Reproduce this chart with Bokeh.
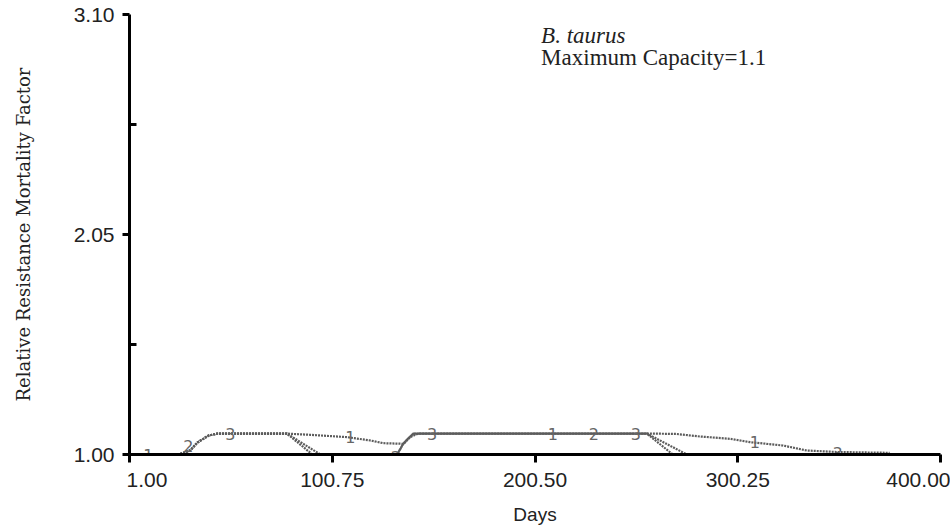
from bokeh.plotting import figure
from bokeh.models import Range1d, FixedTicker, NumeralTickFormatter, Label
from bokeh.embed import file_html
from bokeh.resources import INLINE
from bokeh.core.properties import value

# ---- data ----
days_1 = [1, 25.1, 31.0, 34.4, 39.8, 44.2, 50.6, 78.4, 81.7, 89.9, 107.9, 119.4, 125.9,
          135.8, 139.1, 143.0, 255.5, 257.0, 270.1, 281.6, 296.3, 306.2, 322.4, 334.2,
          348.9, 375.0]
res_1 = [1.0, 1.0, 1.02, 1.057, 1.09, 1.1, 1.1, 1.1, 1.098, 1.094, 1.083, 1.067, 1.054,
         1.051, 1.083, 1.1, 1.1, 1.1, 1.098, 1.086, 1.075, 1.059, 1.043, 1.019, 1.012, 1.008]

days_2 = [1, 25.1, 31.0, 34.4, 39.8, 44.2, 50.6, 78.4, 91.0, 132.7, 135.6, 138.1, 140.6,
          255.5, 268.3, 375.0]
res_2 = [1.0, 1.0, 1.02, 1.057, 1.09, 1.1, 1.1, 1.1, 1.0, 1.0, 1.05, 1.076, 1.1,
         1.1, 1.0, 1.0]

days_3 = [1, 25.1, 31.0, 34.4, 39.8, 44.2, 50.6, 78.4, 94.9, 132.7, 135.6, 138.1, 140.6,
          255.5, 275.2, 375.0]
res_3 = [1.0, 1.0, 1.02, 1.057, 1.09, 1.1, 1.1, 1.1, 1.0, 1.0, 1.05, 1.076, 1.1,
         1.1, 1.0, 1.0]

# curve identification labels (pen numbers)
pen_text = ["1", "2", "3", "1", "2", "3", "1", "2", "3", "1", "3"]
pen_day = [10.3, 30.0, 50.6, 109.6, 132.0, 149.9, 209.3, 229.5, 250.1, 308.6, 349.4]
pen_val = [1.0, 1.04, 1.1, 1.083, 0.99, 1.1, 1.1, 1.1, 1.1, 1.06, 1.005]

x_ticks = [1.0, 100.75, 200.5, 300.25, 400.0]
x_tick_labels = ["\u00a0" * 6 + "1.00", "100.75", "200.50", "300.25", "400.00"]
y_ticks = [1.0, 2.05, 3.10]
y_minor = [1.525, 2.575]

p = figure(width=950, height=529, output_backend="svg", toolbar_location=None,
           x_range=Range1d(1, 400), y_range=Range1d(1.0, 3.10),
           min_border_left=129, min_border_right=10, min_border_top=14, min_border_bottom=75)
p.outline_line_color = None
p.grid.visible = False
p.background_fill_color = "white"
p.border_fill_color = "white"

line_col = "#5c5c5c"
for d, r in [(days_1, res_1), (days_2, res_2), (days_3, res_3)]:
    p.line(d, r, line_color=line_col, line_width=2.2, line_dash="2 1")

p.text(x=pen_day, y=pen_val, text=pen_text, text_color="#666666",
       text_font=value("DejaVu Sans"), text_font_size="16px",
       text_align="center", text_baseline="middle")

# x axis
xa = p.xaxis[0]
xa.ticker = FixedTicker(ticks=x_ticks, minor_ticks=[])
xa.major_label_overrides = {t: s for t, s in zip(x_ticks, x_tick_labels)}
xa.axis_line_width = 3
xa.axis_line_color = "black"
xa.major_tick_line_width = 3
xa.major_tick_out = 8
xa.major_tick_in = 0
xa.minor_tick_line_color = None
xa.major_label_text_font = "Liberation Sans"
xa.major_label_text_font_size = "21px"
xa.major_label_text_color = "#222222"
xa.major_label_standoff = 5
xa.axis_label = "Days"
xa.axis_label_text_font = "Liberation Sans"
xa.axis_label_text_font_style = "normal"
xa.axis_label_text_font_size = "19px"
xa.axis_label_text_color = "#222222"
xa.axis_label_standoff = 10

# y axis
ya = p.yaxis[0]
ya.ticker = FixedTicker(ticks=y_ticks, minor_ticks=y_minor)
ya.formatter = NumeralTickFormatter(format="0.00")
ya.axis_line_width = 3
ya.axis_line_color = "black"
ya.major_tick_line_width = 3
ya.major_tick_out = 7
ya.major_tick_in = 0
ya.minor_tick_line_width = 3
ya.minor_tick_line_color = "black"
ya.minor_tick_in = 7
ya.minor_tick_out = 0
ya.major_label_text_font = "Liberation Sans"
ya.major_label_text_font_size = "21px"
ya.major_label_text_color = "#222222"
ya.major_label_standoff = 8
ya.axis_label = "Relative Resistance Mortality Factor"
ya.axis_label_text_font = "DejaVu Serif"
ya.axis_label_text_font_style = "normal"
ya.axis_label_text_font_size = "18px"
ya.axis_label_text_color = "#222222"
ya.axis_label_standoff = 37

# annotation text
p.add_layout(Label(x=203.5, y=3.0, text="B. taurus", text_font="Liberation Serif",
                   text_font_style="italic", text_font_size="23px", text_color="#222222",
                   text_baseline="middle", text_align="left"))
p.add_layout(Label(x=203.5, y=2.893, text="Maximum Capacity=1.1", text_font="Liberation Serif",
                   text_font_size="23px", text_color="#222222",
                   text_baseline="middle", text_align="left"))

open("out.html", "w").write(file_html(p, INLINE))
